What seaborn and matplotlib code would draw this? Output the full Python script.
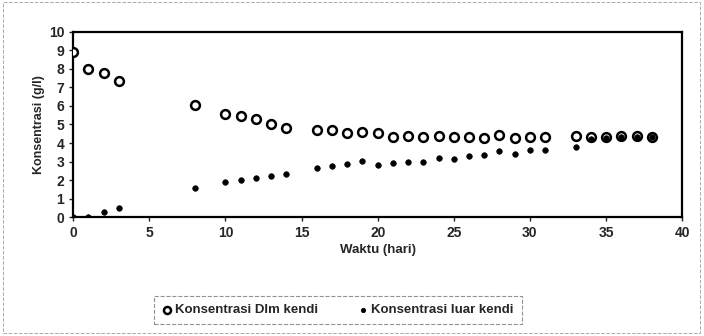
import pandas as pd
import matplotlib.pyplot as plt
import seaborn as sns
from matplotlib.patches import Rectangle

sns.set_style("ticks")
plt.rcParams['font.family'] = ['Liberation Sans', 'DejaVu Sans']

# Data
hari_dalam = [0, 1, 2, 3, 8, 10, 11, 12, 13, 14, 16, 17, 18, 19, 20, 21, 22, 23, 24, 25,
              26, 27, 28, 29, 30, 31, 33, 34, 35, 36, 37, 38]
kons_dalam = [8.9, 8.0, 7.78, 7.35, 6.04, 5.57, 5.46, 5.28, 5.03, 4.83, 4.7, 4.7, 4.56, 4.6, 4.52,
              4.34, 4.37, 4.34, 4.37, 4.34, 4.34, 4.29, 4.43, 4.25, 4.3, 4.34, 4.37, 4.3, 4.34,
              4.37, 4.37, 4.34]

hari_luar = [0, 1, 2, 3, 8, 10, 11, 12, 13, 14, 16, 17, 18, 19, 20, 21, 22, 23, 24, 25,
             26, 27, 28, 29, 30, 31, 33, 34, 35, 36, 37, 38]
kons_luar = [0.0, 0.03, 0.27, 0.47, 1.58, 1.87, 1.98, 2.09, 2.23, 2.32, 2.63, 2.76, 2.85, 3.04, 2.83,
             2.9, 2.99, 2.96, 3.17, 3.14, 3.31, 3.35, 3.57, 3.4, 3.62, 3.62, 3.8, 4.2, 4.25,
             4.3, 4.32, 4.32]

dalam = pd.DataFrame({'hari': hari_dalam, 'kons': kons_dalam})
luar = pd.DataFrame({'hari': hari_luar, 'kons': kons_luar})

fig = plt.figure(figsize=(7.04, 3.36), dpi=100)
ax = fig.add_axes([0.104, 0.354, 0.865, 0.551])

sns.scatterplot(data=dalam, x='hari', y='kons', ax=ax, marker='o', s=40,
                facecolor='white', edgecolor='black', linewidth=1.8,
                label='Konsentrasi Dlm kendi', zorder=3)
sns.scatterplot(data=luar, x='hari', y='kons', ax=ax, marker='o', s=16,
                color='black', edgecolor='black', linewidth=0.5,
                label='Konsentrasi luar kendi', zorder=4)

ax.set_xlim(0, 40)
ax.set_ylim(0, 10)
ax.set_xticks(range(0, 41, 5))
ax.set_yticks(range(0, 11, 1))
ax.tick_params(axis='both', labelsize=10, length=3, width=1, direction='out')
for lbl in ax.get_xticklabels() + ax.get_yticklabels():
    lbl.set_fontweight('bold')
for sp in ax.spines.values():
    sp.set_visible(True)
    sp.set_linewidth(1.6)
    sp.set_color('black')

ax.set_xlabel('Waktu (hari)', fontsize=9.5, fontweight='bold', labelpad=3)
ax.set_ylabel('Konsentrasi (g/l)', fontsize=9, fontweight='bold', labelpad=3)

handles, labels = ax.get_legend_handles_labels()
ax.get_legend().remove()
leg = fig.legend(handles, labels, loc='center', bbox_to_anchor=(0.48, 0.077), ncol=2,
                 frameon=True, fancybox=False, fontsize=9.5, handletextpad=0.2,
                 columnspacing=3.0, handlelength=0.8, borderpad=0.6, markerscale=0.8)
leg.get_frame().set_edgecolor('#777777')
leg.get_frame().set_linestyle('--')
leg.get_frame().set_linewidth(0.8)
for t in leg.get_texts():
    t.set_fontweight('bold')

# faint dashed border around the figure
fig.patches.append(Rectangle((0.004, 0.01), 0.99, 0.985, transform=fig.transFigure,
                             fill=False, edgecolor='#aaaaaa', linestyle='--', linewidth=0.7))

fig.savefig('out.png', dpi=100)
